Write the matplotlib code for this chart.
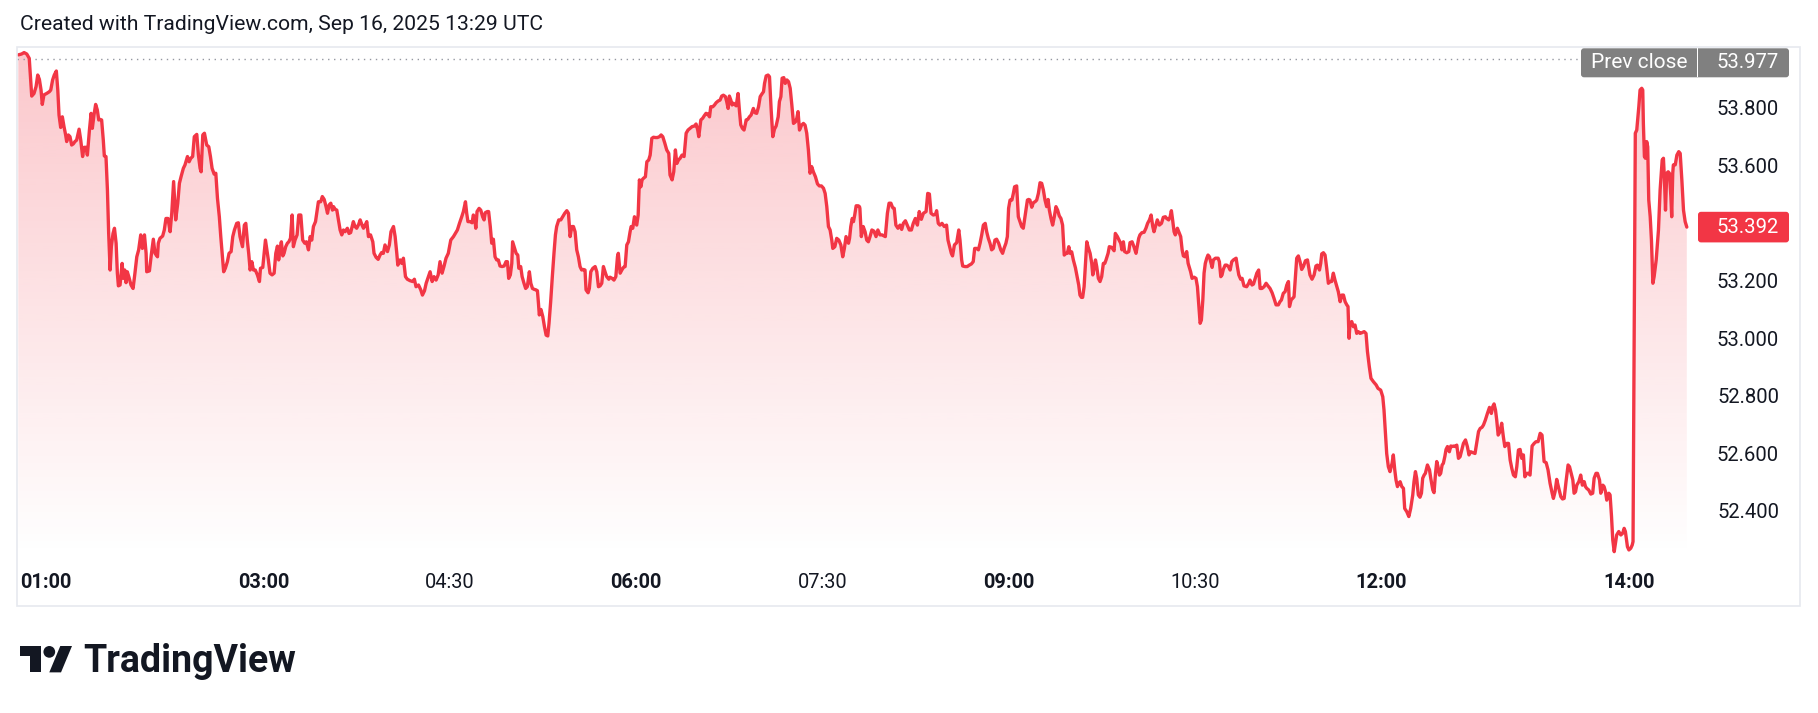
import numpy as np
import matplotlib
matplotlib.use("Agg")
import matplotlib.pyplot as plt
import matplotlib.colors as mcolors
from matplotlib.patches import Rectangle, FancyBboxPatch, Circle, Polygon
from matplotlib.transforms import Affine2D, blended_transform_factory

W, H, DPI = 1818, 713, 100

TITLE = "Created with TradingView.com, Sep 16, 2025 13:29 UTC"
BRAND = "TradingView"
PREV_LABEL = "Prev close"
PREV_CLOSE = 53.977

# minutes after 01:00 (local chart time) and price
minutes_after_0100 = [
    1.2, 2.8, 4.0, 5.3, 6.5, 7.2, 7.7, 8.8, 9.8, 10.6, 11.4, 12.2, 12.8, 13.6, 14.9, 16.2, 16.9, 17.8, 18.6, 19.6,
    20.3, 20.9, 21.7, 22.5, 23.3, 24.1, 24.6, 25.4, 26.2, 27.0, 27.8, 28.6, 29.4, 30.6, 31.4, 32.3, 33.0, 34.0, 34.6, 35.6,
    36.4, 37.0, 37.8, 38.6, 39.4, 40.1, 40.7, 41.5, 42.3, 42.8, 43.6, 44.3, 44.9, 45.6, 46.2, 47.0, 47.7, 48.5, 49.1, 49.6,
    50.4, 51.4, 52.0, 52.7, 53.3, 53.9, 54.7, 55.7, 56.7, 57.6, 58.5, 59.4, 60.4, 61.2, 62.2, 63.0, 63.3, 64.6, 65.6, 66.5,
    67.3, 68.5, 68.9, 69.7, 71.0, 71.8, 72.6, 73.6, 74.6, 75.4, 76.3, 77.3, 78.3, 79.1, 79.9, 81.0, 81.8, 83.0, 83.8, 84.6,
    85.5, 86.3, 87.5, 88.3, 89.1, 89.6, 90.4, 91.2, 92.3, 93.3, 94.1, 94.9, 95.9, 96.7, 97.5, 98.4, 99.1, 99.9, 100.5, 101.3,
    102.3, 103.1, 104.1, 104.9, 105.7, 106.8, 107.6, 108.4, 109.6, 110.5, 111.2, 112.0, 112.6, 113.3, 114.1, 114.9, 115.8, 116.8, 117.8, 118.3,
    119.4, 120.0, 120.7, 121.3, 122.1, 122.9, 123.9, 124.9, 125.7, 126.5, 127.1, 127.8, 128.4, 129.1, 129.7, 130.5, 131.3, 132.0, 132.8, 133.6,
    134.2, 135.0, 136.0, 136.8, 137.8, 138.7, 139.7, 140.5, 141.5, 142.3, 143.1, 143.9, 144.9, 145.5, 146.3, 147.4, 148.2, 149.1, 150.0, 150.7,
    151.5, 152.3, 153.1, 153.6, 154.4, 155.2, 156.0, 156.8, 157.6, 158.4, 159.2, 160.3, 161.1, 161.9, 163.2, 164.0, 164.8, 165.8, 166.5, 167.4,
    168.1, 168.9, 169.7, 170.5, 171.5, 172.6, 173.2, 174.2, 175.2, 176.1, 176.9, 177.7, 178.5, 179.7, 180.6, 181.4, 182.6, 183.4, 184.2, 184.7,
    185.8, 186.6, 187.4, 188.4, 189.3, 190.6, 191.9, 192.7, 193.5, 194.7, 195.8, 196.6, 197.6, 198.4, 199.5, 200.3, 201.3, 202.2, 203.2, 204.2,
    205.1, 206.1, 207.0, 208.0, 209.1, 210.3, 211.6, 212.5, 213.5, 214.5, 215.6, 216.4, 217.4, 218.0, 218.6, 219.6, 220.6, 221.2, 221.9, 222.4,
    223.0, 224.0, 224.8, 225.7, 226.4, 227.0, 228.0, 228.6, 229.4, 230.1, 230.9, 231.7, 232.5, 233.3, 234.1, 235.1, 236.1, 237.0, 237.7, 238.3,
    239.1, 239.8, 240.2, 240.9, 241.9, 242.7, 243.2, 244.1, 244.8, 245.7, 246.5, 247.3, 248.3, 249.0, 249.8, 250.6, 251.5, 252.2, 252.7, 253.1,
    253.9, 254.8, 255.6, 256.4, 257.2, 257.8, 258.6, 259.4, 260.2, 260.9, 261.5, 262.5, 263.5, 264.4, 265.4, 266.4, 267.2, 268.0, 268.8, 269.6,
    270.4, 271.2, 272.0, 272.8, 273.6, 274.4, 275.2, 275.7, 276.7, 277.3, 278.0, 279.0, 280.1, 280.9, 281.7, 282.5, 283.3, 284.1, 285.1, 285.7,
    286.7, 287.3, 288.3, 289.2, 290.1, 290.9, 291.3, 292.2, 293.0, 293.8, 294.6, 295.4, 296.2, 297.0, 297.5, 298.3, 299.1, 300.2, 300.9, 301.5,
    302.2, 302.8, 303.4, 304.4, 305.1, 306.0, 306.7, 307.5, 308.3, 309.2, 310.2, 311.2, 312.0, 312.8, 313.8, 314.7, 315.7, 316.3, 317.3, 318.1,
    318.9, 319.6, 320.4, 321.2, 322.1, 323.1, 324.1, 325.0, 326.0, 327.0, 328.1, 328.9, 329.7, 330.2, 331.2, 332.1, 332.8, 333.7, 334.5, 335.4,
    336.0, 337.0, 337.8, 338.6, 339.6, 340.5, 341.3, 342.1, 343.1, 343.7, 344.4, 345.0, 345.7, 346.3, 347.0, 348.3, 349.2, 349.9, 350.5, 351.3,
    352.1, 352.8, 353.1, 353.9, 354.7, 355.5, 356.6, 357.4, 358.2, 359.1, 359.9, 360.7, 361.5, 362.0, 362.8, 363.7, 364.4, 365.2, 366.0, 366.8,
    367.6, 368.6, 369.2, 369.9, 370.5, 371.3, 372.0, 372.8, 373.6, 374.4, 375.2, 376.0, 377.0, 377.6, 378.2, 378.9, 379.9, 380.8, 381.6, 382.4,
    383.2, 384.0, 384.8, 385.6, 386.6, 387.6, 388.5, 389.5, 390.5, 391.3, 392.1, 392.9, 393.7, 394.5, 395.0, 396.0, 396.9, 397.9, 398.9, 399.8,
    400.6, 401.4, 402.6, 403.1, 403.7, 404.4, 405.0, 405.6, 406.3, 407.3, 407.9,
    408.1, 408.8, 409.7, 410.6, 411.4, 412.2, 413.0, 413.9, 414.9, 415.9, 416.8, 417.8, 418.8, 420.4, 421.4, 422.2, 423.1, 423.9, 424.7, 425.5,
    426.5, 427.5, 428.3, 429.1, 430.1, 431.0, 432.0, 433.0, 433.9, 434.9, 435.9, 436.8, 437.8, 438.8, 440.1, 440.9, 441.7, 442.5, 443.6, 444.6,
    445.2, 446.0, 446.8, 447.8, 448.9, 450.0, 450.7, 451.3, 452.3, 452.9, 453.8, 454.9, 455.9, 456.5, 457.3, 457.8, 458.9, 460.0, 461.0, 462.0,
    462.9, 463.6, 464.6, 465.4, 466.2, 467.0, 467.8, 468.7, 469.4, 470.2, 471.0, 471.8, 472.6, 473.4, 474.2, 475.2, 476.2, 477.1, 477.8, 478.7,
    479.4, 480.0, 480.7, 481.6, 482.3, 482.9, 483.9, 484.7, 485.5, 486.3, 487.1, 487.9, 488.4, 489.1, 489.7, 490.3, 491.2, 492.0, 492.8, 493.6,
    494.4, 495.2, 496.0, 496.8, 497.6, 498.4, 499.1, 499.7, 500.5, 501.3, 502.1, 502.9, 503.7, 504.5, 505.3, 506.1, 506.9, 507.8, 508.4, 509.1,
    509.7, 510.5, 511.3, 512.3, 513.2, 513.9, 514.5, 515.2, 515.8, 516.5, 517.1, 517.8, 518.4, 519.4, 520.2, 520.7, 521.5, 522.0, 522.6, 523.4,
    524.2, 525.0, 525.8, 526.5, 527.1, 528.1, 528.7, 529.8, 531.0, 531.6, 532.6, 533.4, 534.2, 534.8, 535.5, 536.1, 537.1, 538.1, 538.7, 539.7,
    540.6, 541.6, 542.3, 542.9, 543.5, 544.5, 545.5, 546.4, 547.2, 548.1, 548.9, 549.7, 550.3, 551.0, 551.9, 552.9, 553.9, 554.8, 555.8, 556.4,
    557.4, 558.1, 558.7, 559.3, 560.0, 560.6, 561.6, 562.6, 563.2, 563.9, 564.5, 565.3, 566.1, 566.8, 567.4, 568.0, 568.7, 569.7, 570.6, 571.3,
    571.9, 572.6, 573.2, 573.9, 574.5, 575.1, 575.8, 576.4, 577.1, 577.7, 578.4, 579.0, 580.0, 581.3, 581.9, 582.6, 583.2, 583.8, 584.7, 585.5,
    586.3, 587.1, 587.9, 588.7, 590.0, 590.6, 591.3, 592.2, 592.9, 593.8, 595.1, 596.1, 596.7, 597.7, 598.4, 599.0, 600.0, 600.9, 601.6, 602.5,
    603.5, 604.5, 605.4, 606.4, 607.4, 608.3, 609.3, 610.4, 611.2,
    611.9, 612.8, 613.7, 614.5, 615.3, 615.8, 616.6, 617.4, 618.0, 618.7, 619.3, 620.1, 620.9, 621.7, 622.5, 623.5, 624.5, 625.1, 625.7, 626.7,
    627.7, 628.6, 629.3, 630.3, 630.9, 631.4, 632.2, 633.0, 633.8, 634.6, 635.4, 636.2, 637.0, 637.8, 638.6, 639.4, 640.3, 641.1, 641.9, 642.7,
    643.5, 644.1, 644.6, 645.1, 645.9, 646.7, 647.5, 648.3, 649.1, 649.9, 650.7, 651.9, 652.8, 653.5, 654.4, 655.2, 656.4, 657.7, 658.6, 659.9,
    660.9, 661.5, 662.2, 662.8, 663.6, 664.4, 665.4, 666.0, 666.7, 667.3, 668.0, 668.6, 669.3, 670.1, 670.9, 671.5, 672.5, 673.5, 674.4, 675.4,
    676.0, 676.7, 677.3, 678.1, 678.9, 679.6, 680.2, 680.9, 681.5, 682.5, 683.5, 684.1, 685.1, 685.7, 686.4, 687.0, 687.6, 688.3, 688.9, 689.6,
    690.2, 690.9, 691.5, 692.2, 693.1, 693.8, 694.4, 695.4, 696.0, 696.7, 697.5, 698.3, 699.1, 699.9, 700.9, 701.8, 702.6, 703.4, 704.4, 705.5,
    706.3, 707.2, 708.0, 708.9, 709.6, 710.5, 711.5, 712.5, 713.4, 714.1, 714.7, 715.4, 716.0, 716.7, 717.6, 718.4, 719.2, 719.9, 720.9, 721.7,
    722.5, 723.3, 724.1, 725.0, 725.7, 726.5, 727.3, 728.1, 728.9, 729.6, 730.5, 731.3, 732.1, 733.1, 734.1, 735.0, 736.0, 737.0, 737.9, 738.9,
    739.9, 740.8, 741.8, 742.8, 743.4, 744.2, 745.0, 746.0, 747.0, 747.8, 748.6, 749.5, 750.5, 751.2, 751.8, 752.8, 753.4, 754.1, 754.7, 755.7,
    756.6, 757.4, 758.3, 758.9, 759.5, 760.5, 761.5, 762.4, 763.1, 764.0, 764.7, 765.7, 766.3, 767.3, 767.9, 768.6, 769.2, 770.2, 770.8, 771.5,
    772.1, 772.8, 773.4, 774.0, 775.0, 776.0, 776.9, 777.6, 778.2, 779.2, 779.9, 780.8, 781.5, 781.9,
    783.0, 783.7, 784.7, 785.3, 786.1, 786.6, 786.9, 787.4, 787.9, 788.5, 789.0, 789.5, 790.2, 790.8, 791.5, 792.1, 793.1, 794.2, 795.0, 796.0,
    796.6, 797.1, 797.6, 798.2, 798.9, 799.5, 800.2, 800.6, 801.1, 801.4, 802.3, 803.1, 804.0, 804.7, 805.5, 806.3, 807.1, 807.9,
]

prices = [
    53.990, 53.993, 53.998, 53.993, 53.978, 53.903, 53.847, 53.856, 53.880, 53.920, 53.905, 53.868, 53.818, 53.851, 53.856, 53.862, 53.868, 53.903, 53.920, 53.934,
    53.868, 53.781, 53.738, 53.775, 53.741, 53.712, 53.689, 53.712, 53.706, 53.677, 53.681, 53.689, 53.694, 53.732, 53.694, 53.637, 53.669, 53.669, 53.642, 53.729,
    53.787, 53.735, 53.781, 53.818, 53.799, 53.764, 53.766, 53.764, 53.694, 53.639, 53.637, 53.521, 53.370, 53.243, 53.324, 53.370, 53.388, 53.336, 53.232, 53.188,
    53.191, 53.266, 53.214, 53.243, 53.199, 53.237, 53.218, 53.191, 53.179, 53.232, 53.289, 53.313, 53.365, 53.318, 53.365, 53.301, 53.237, 53.240, 53.301, 53.350,
    53.301, 53.289, 53.336, 53.353, 53.361, 53.382, 53.422, 53.422, 53.376, 53.440, 53.550, 53.417, 53.475, 53.544, 53.567, 53.596, 53.608, 53.637, 53.619, 53.631,
    53.637, 53.706, 53.714, 53.642, 53.596, 53.584, 53.712, 53.718, 53.677, 53.671, 53.637, 53.596, 53.576, 53.579, 53.492, 53.428, 53.359, 53.289, 53.237, 53.249,
    53.272, 53.301, 53.307, 53.359, 53.382, 53.405, 53.407, 53.359, 53.324, 53.399, 53.405, 53.341, 53.301, 53.243, 53.272, 53.243, 53.243, 53.226, 53.203, 53.249,
    53.252, 53.295, 53.347, 53.318, 53.278, 53.232, 53.226, 53.232, 53.301, 53.326, 53.278, 53.318, 53.341, 53.292, 53.301, 53.324, 53.336, 53.341, 53.353, 53.434,
    53.324, 53.347, 53.365, 53.434, 53.434, 53.347, 53.336, 53.341, 53.313, 53.359, 53.347, 53.394, 53.411, 53.440, 53.480, 53.480, 53.498, 53.488, 53.463, 53.440,
    53.469, 53.475, 53.451, 53.463, 53.454, 53.451, 53.417, 53.382, 53.365, 53.382, 53.376, 53.388, 53.370, 53.373, 53.411, 53.394, 53.388, 53.402, 53.417, 53.399,
    53.388, 53.399, 53.411, 53.359, 53.365, 53.341, 53.301, 53.287, 53.280, 53.295, 53.304, 53.301, 53.330, 53.307, 53.330, 53.376, 53.394, 53.359, 53.301, 53.260,
    53.278, 53.266, 53.284, 53.220, 53.211, 53.206, 53.203, 53.211, 53.185, 53.191, 53.174, 53.156, 53.171, 53.197, 53.220, 53.237, 53.203, 53.220, 53.208, 53.226,
    53.272, 53.232, 53.255, 53.284, 53.301, 53.347, 53.359, 53.370, 53.382, 53.405, 53.428, 53.446, 53.480, 53.440, 53.411, 53.411, 53.407, 53.434, 53.422, 53.388,
    53.446, 53.457, 53.451, 53.428, 53.417, 53.442, 53.446, 53.446, 53.394, 53.336, 53.350, 53.289, 53.278, 53.278, 53.257, 53.255, 53.257, 53.272, 53.272, 53.214,
    53.226, 53.266, 53.341, 53.324, 53.301, 53.295, 53.249, 53.255, 53.220, 53.197, 53.179, 53.185, 53.237, 53.197, 53.179, 53.176, 53.174, 53.171, 53.127, 53.087,
    53.106, 53.081, 53.046, 53.017, 53.014, 53.058, 53.133, 53.220, 53.301, 53.365, 53.394, 53.417, 53.417, 53.428, 53.440, 53.449, 53.440, 53.359, 53.394, 53.394,
    53.376, 53.313, 53.289, 53.255, 53.243, 53.245, 53.243, 53.174, 53.164, 53.179, 53.237, 53.249, 53.255, 53.237, 53.185, 53.188, 53.197, 53.255, 53.232, 53.220,
    53.211, 53.218, 53.214, 53.208, 53.220, 53.289, 53.301, 53.232, 53.243, 53.252, 53.255, 53.330, 53.341, 53.376, 53.394, 53.388, 53.428, 53.399, 53.434, 53.556,
    53.532, 53.556, 53.561, 53.567, 53.619, 53.625, 53.642, 53.700, 53.704, 53.703, 53.703, 53.706, 53.712, 53.706, 53.683, 53.660, 53.648, 53.573, 53.556, 53.584,
    53.660, 53.613, 53.625, 53.631, 53.642, 53.637, 53.718, 53.729, 53.735, 53.741, 53.743, 53.750, 53.729, 53.706, 53.764, 53.770, 53.778, 53.787, 53.785, 53.775,
    53.810, 53.810, 53.816, 53.824, 53.830, 53.833, 53.847, 53.850, 53.845, 53.828, 53.804, 53.847, 53.833, 53.816, 53.822, 53.813, 53.856, 53.793, 53.747, 53.735,
    53.729, 53.752, 53.764, 53.766, 53.775, 53.781, 53.804, 53.789, 53.787, 53.810, 53.845, 53.854, 53.862, 53.891, 53.917, 53.920, 53.914, 53.799, 53.706, 53.732,
    53.743, 53.775, 53.828, 53.845, 53.909, 53.911, 53.891, 53.903, 53.897, 53.874, 53.816, 53.752, 53.758, 53.770, 53.793, 53.729, 53.746, 53.752, 53.746, 53.718,
    53.660, 53.579, 53.602, 53.584, 53.567, 53.542, 53.535, 53.535, 53.527, 53.509, 53.463, 53.394, 53.382, 53.347, 53.318, 53.324, 53.353, 53.347, 53.330, 53.289,
    53.318, 53.359, 53.336, 53.353, 53.394, 53.422, 53.411, 53.434, 53.466, 53.466, 53.463,
    53.457, 53.359, 53.394, 53.376, 53.347, 53.341, 53.359, 53.382, 53.378, 53.359, 53.382, 53.365, 53.365, 53.359, 53.440, 53.475, 53.475, 53.460, 53.457, 53.399,
    53.388, 53.399, 53.384, 53.405, 53.414, 53.399, 53.382, 53.382, 53.405, 53.422, 53.399, 53.446, 53.419, 53.440, 53.446, 53.509, 53.507, 53.440, 53.434, 53.436,
    53.449, 53.405, 53.399, 53.405, 53.394, 53.399, 53.347, 53.330, 53.301, 53.292, 53.330, 53.338, 53.382, 53.347, 53.278, 53.257, 53.255, 53.255, 53.260, 53.264,
    53.272, 53.318, 53.318, 53.313, 53.336, 53.365, 53.399, 53.405, 53.376, 53.353, 53.336, 53.313, 53.318, 53.347, 53.350, 53.336, 53.313, 53.301, 53.318, 53.336,
    53.359, 53.457, 53.486, 53.486, 53.509, 53.532, 53.535, 53.428, 53.411, 53.394, 53.388, 53.428, 53.451, 53.486, 53.488, 53.486, 53.461, 53.477, 53.480, 53.486,
    53.509, 53.546, 53.544, 53.521, 53.486, 53.463, 53.488, 53.451, 53.422, 53.399, 53.428, 53.463, 53.451, 53.431, 53.422, 53.399, 53.295, 53.301, 53.301, 53.324,
    53.301, 53.306, 53.278, 53.251, 53.218, 53.191, 53.156, 53.148, 53.148, 53.185, 53.255, 53.341, 53.324, 53.301, 53.266, 53.226, 53.255, 53.278, 53.255, 53.214,
    53.203, 53.220, 53.266, 53.266, 53.278, 53.301, 53.324, 53.322, 53.310, 53.370, 53.359, 53.347, 53.336, 53.313, 53.341, 53.307, 53.303, 53.307, 53.338, 53.341,
    53.324, 53.301, 53.330, 53.353, 53.365, 53.373, 53.374, 53.388, 53.405, 53.417, 53.434, 53.394, 53.376, 53.394, 53.417, 53.399, 53.405, 53.426, 53.428, 53.422,
    53.417, 53.428, 53.449, 53.417, 53.376, 53.365, 53.388, 53.370, 53.359, 53.313, 53.292, 53.289, 53.307, 53.266, 53.252, 53.237, 53.214, 53.218, 53.214, 53.185,
    53.127, 53.058, 53.069, 53.139, 53.232, 53.266, 53.284, 53.295, 53.289, 53.272, 53.252, 53.278, 53.284, 53.284, 53.272, 53.220, 53.226, 53.245, 53.260, 53.260,
    53.255, 53.243, 53.272, 53.278, 53.284, 53.255, 53.226, 53.211, 53.214, 53.188, 53.185, 53.197, 53.208, 53.191, 53.194, 53.208, 53.232, 53.243, 53.179, 53.179,
    53.185, 53.197, 53.188, 53.179, 53.164, 53.145, 53.122, 53.122, 53.133,
    53.139, 53.162, 53.168, 53.191, 53.203, 53.116, 53.139, 53.145, 53.150, 53.220, 53.284, 53.292, 53.272, 53.245, 53.255, 53.275, 53.278, 53.252, 53.226, 53.211,
    53.226, 53.257, 53.260, 53.243, 53.266, 53.299, 53.303, 53.295, 53.249, 53.197, 53.203, 53.203, 53.232, 53.208, 53.188, 53.168, 53.133, 53.156, 53.156, 53.133,
    53.122, 53.116, 53.006, 53.058, 53.064, 53.046, 53.052, 53.023, 53.029, 53.023, 53.025, 53.029, 53.023, 52.960, 52.907, 52.867, 52.855, 52.844, 52.832, 52.826,
    52.803, 52.757, 52.676, 52.606, 52.560, 52.543, 52.572, 52.601, 52.549, 52.514, 52.491, 52.502, 52.508, 52.491, 52.485, 52.415, 52.404, 52.387, 52.415, 52.462,
    52.508, 52.543, 52.520, 52.462, 52.454, 52.468, 52.520, 52.531, 52.537, 52.566, 52.549, 52.520, 52.479, 52.470, 52.537, 52.578, 52.560, 52.531, 52.537, 52.566,
    52.572, 52.595, 52.620, 52.630, 52.612, 52.632, 52.630, 52.632, 52.630, 52.635, 52.589, 52.595, 52.618, 52.641, 52.653, 52.630, 52.601, 52.612, 52.609, 52.606,
    52.641, 52.682, 52.693, 52.697, 52.705, 52.722, 52.745, 52.766, 52.745, 52.769, 52.778, 52.757, 52.722, 52.670, 52.682, 52.711, 52.664, 52.630, 52.641, 52.641,
    52.583, 52.554, 52.531, 52.525, 52.560, 52.618, 52.620, 52.589, 52.601, 52.525, 52.537, 52.537, 52.531, 52.632, 52.641, 52.647, 52.647, 52.676, 52.670, 52.578,
    52.574, 52.549, 52.502, 52.468, 52.450, 52.473, 52.516, 52.485, 52.456, 52.448, 52.450, 52.508, 52.566, 52.560, 52.543, 52.514, 52.468, 52.473, 52.496, 52.508,
    52.531, 52.496, 52.508, 52.491, 52.485, 52.479, 52.465, 52.468, 52.520, 52.537, 52.537, 52.514, 52.468, 52.496, 52.491, 52.473, 52.444, 52.468, 52.462, 52.387,
    52.306, 52.265, 52.294, 52.323, 52.335, 52.323, 52.329, 52.346, 52.335, 52.282, 52.271, 52.277, 52.288, 52.300,
    53.718, 53.729, 53.810, 53.868, 53.874, 53.868, 53.752, 53.637, 53.631, 53.689, 53.671, 53.486, 53.428, 53.347, 53.197, 53.220, 53.278, 53.382, 53.521, 53.625,
    53.631, 53.556, 53.451, 53.579, 53.584, 53.579, 53.498, 53.428, 53.579, 53.608, 53.608, 53.642, 53.654, 53.648, 53.556, 53.451, 53.411, 53.392,
]

price_ticks = [52.4, 52.6, 52.8, 53.0, 53.2, 53.6, 53.8]
time_labels = ["01:00", "03:00", "04:30", "06:00", "07:30", "09:00", "10:30", "12:00", "14:00"]
time_label_minutes = [60, 180, 270, 360, 450, 540, 630, 720, 840]

LINE = "#F23645"
TEXT = "#131722"
FRAME = "#E6E9EF"
GREY = "#808080"

plt.rcParams['font.family'] = ['Roboto', 'DejaVu Sans']

fig = plt.figure(figsize=(W / DPI, H / DPI), dpi=DPI)
fig.patch.set_facecolor('white')
# pixel coordinates, y measured downward from the top of the image
pix = Affine2D().scale(1, -1).translate(0, H)

# pane geometry (pixels)
PANE_L, PANE_T, PANE_R, PANE_B = 17.3, 47.3, 1800.0, 606.0
PLOT_R, PLOT_B = 1695.0, 556.0
PX_0100, PX_PER_MIN = 15.8, 124.1 / 60.0
Y_53, PX_PER_UNIT = 340.0, 288.0

def price_at(py):
    return 53.0 - (py - Y_53) / PX_PER_UNIT

times = np.array([60.0 + m for m in minutes_after_0100])
vals = np.array(prices)
x0 = 60.0 + (PANE_L - PX_0100) / PX_PER_MIN
x1 = 60.0 + (PLOT_R - PX_0100) / PX_PER_MIN
ylo, yhi = price_at(PLOT_B), price_at(PANE_T)

fig.add_artist(Rectangle((PANE_L, PANE_T), PANE_R - PANE_L, PANE_B - PANE_T, transform=pix,
                         fill=False, edgecolor=FRAME, lw=1.2))

ax = fig.add_axes([PANE_L / W, 1 - PLOT_B / H, (PLOT_R - PANE_L) / W, (PLOT_B - PANE_T) / H])
ax.axis('off')

# gradient area fill
verts = np.column_stack([np.r_[times[0], times, times[-1]], np.r_[ylo, vals, ylo]])
clip = Polygon(verts, closed=True, transform=ax.transData, facecolor='none', edgecolor='none')
ax.add_patch(clip)
grad = np.zeros((256, 1, 4))
grad[..., :3] = mcolors.to_rgb(LINE)
grad[:, 0, 3] = np.linspace(0.28, 0.0, 256)
im = ax.imshow(grad, extent=[x0, x1, ylo, yhi], aspect='auto', origin='upper',
               interpolation='bilinear', zorder=1)
im.set_clip_path(clip)

ax.plot(times, vals, color=LINE, lw=2.4, solid_joinstyle='round', solid_capstyle='round', zorder=3)

# previous close dotted line
dot_end = (1578.0 - PANE_L) / (PLOT_R - PANE_L)
ax.axhline(PREV_CLOSE, xmin=0, xmax=dot_end, color='#9598A1', lw=1.0, dashes=(1, 3.3), zorder=2)

ax.set_xlim(x0, x1)
ax.set_ylim(ylo, yhi)

# price scale labels
ytr = blended_transform_factory(pix, ax.transData)
for v in price_ticks:
    ax.text(1779, v, f"{v:.3f}", transform=ytr, ha='right', va='center',
            fontsize=14.6, color=TEXT, clip_on=False)

# time scale labels
xtr = blended_transform_factory(ax.transData, pix)
for lab, mnt in zip(time_labels, time_label_minutes):
    bold = lab.endswith(":00")
    if mnt == time_label_minutes[0]:
        fig.text(20, 583, lab, transform=pix, ha='left', va='center', fontsize=14.4,
                 color=TEXT, fontweight='bold' if bold else 'normal')
    else:
        ax.text(mnt, 583, lab, transform=xtr, ha='center', va='center', fontsize=14.4,
                color=TEXT, fontweight='bold' if bold else 'normal', clip_on=False)

fig.canvas.draw()

def disp_py(t, v):
    return H - ax.transData.transform((t, v))[1]

# last price label
last_py = disp_py(times[-1], vals[-1])
fig.add_artist(FancyBboxPatch((1698, last_py - 15.3), 91, 30.6, transform=pix,
                              boxstyle='round,pad=0,rounding_size=3', facecolor=LINE, edgecolor='none'))
fig.text(1779, last_py, f"{vals[-1]:.3f}", transform=pix, ha='right', va='center',
         fontsize=14.6, color='white')

# prev close label (clamped to the pane top)
pc_py = max(disp_py(times[0], PREV_CLOSE), PANE_T + 1 + 14.5)
fig.add_artist(FancyBboxPatch((1581, pc_py - 14.5), 208, 29, transform=pix,
                              boxstyle='round,pad=0,rounding_size=3', facecolor=GREY, edgecolor='none'))
fig.add_artist(Rectangle((1697, pc_py - 14.5), 1.4, 29, transform=pix, facecolor='white', edgecolor='none'))
fig.text(1639, pc_py, PREV_LABEL, transform=pix, ha='center', va='center', fontsize=15, color='white')
fig.text(1779, pc_py, f"{PREV_CLOSE:.3f}", transform=pix, ha='right', va='center', fontsize=14.6, color='white')

# title
title = fig.text(19.7, 24.3, TITLE, transform=pix, ha='left', va='center', fontsize=14.5, color=TEXT)

# brand logo
s = 52.0 / 35.5
ox, oy = 20.0, 646.0 - 4 * s
def L(pts):
    return [(ox + s * a, oy + s * b) for a, b in pts]
fig.add_artist(Polygon(L([(14, 22), (7, 22), (7, 11), (0, 11), (0, 4), (14, 4)]), closed=True,
                       transform=pix, facecolor=TEXT, edgecolor='none'))
fig.add_artist(Polygon(L([(28, 22), (20, 22), (27.5, 4), (35.5, 4)]), closed=True,
                       transform=pix, facecolor=TEXT, edgecolor='none'))
fig.add_artist(Circle((ox + s * 20, oy + s * 8), 4 * s, transform=pix, facecolor=TEXT, edgecolor='none'))
brand = fig.text(83.5, 672, BRAND, transform=pix, ha='left', va='baseline', fontsize=26,
                 fontweight='bold', color=TEXT)

def fit(t, target):
    r = fig.canvas.get_renderer()
    w = t.get_window_extent(renderer=r).width
    t.set_fontsize(t.get_fontsize() * target / w)

fig.canvas.draw()
fit(title, 520)
fit(brand, 213.5)

fig.savefig("out.png", dpi=DPI, facecolor='white')
